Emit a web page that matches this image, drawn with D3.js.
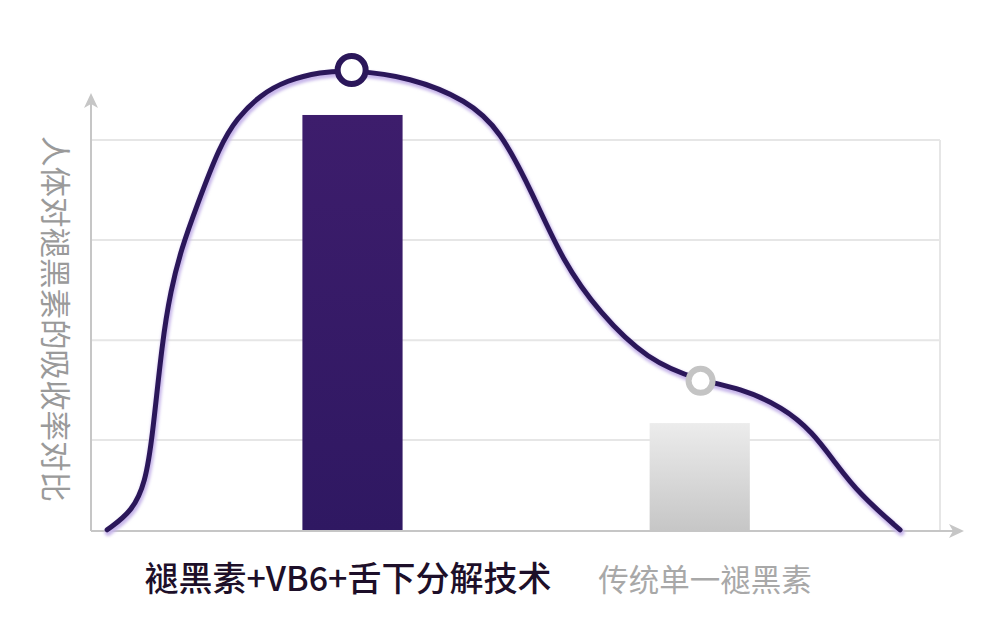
<!DOCTYPE html>
<html>
<head>
<meta charset="utf-8">
<script src="https://cdn.jsdelivr.net/npm/d3@7"></script>
<style>
  body { margin: 0; background: #fff; }
  svg { display: block; font-family: "Noto Sans CJK SC", "Noto Sans", sans-serif; }
</style>
</head>
<body>
<script>
//Categories and bar values (absorption, arbitrary units).
const categories = ["褪黑素+VB6+舌下分解技术", "传统单一褪黑素"];
const barCenters = [30.8, 71.7];
const barValues = [106.4, 27.6];

//Absorption curve.
const curveX = [1.9, 4.9, 6.4, 7.2, 8.4, 9.4, 10.6, 12.5, 15.2, 17.2, 19.9, 23.1, 27.0, 30.7, 37.6, 44.3, 48.2, 52.0, 55.6, 59.9, 65.5, 71.8, 76.4, 81.5, 85.0, 87.6, 90.6, 95.3];
const curveY = [0.3, 5.1, 12.5, 23.3, 48.8, 61.6, 71.9, 83.4, 98.7, 105.6, 111.5, 115.3, 117.4, 117.9, 116.1, 110.2, 102.6, 86.4, 68.8, 55.8, 43.7, 38.4, 36.6, 31.7, 25.3, 17.6, 9.2, 0.3];

//Marker points on the curve.
const markerX = [30.7, 71.8];
const markerY = [117.9, 38.4];

//Gridline values.
const gridTicks = [23.3, 48.8, 74.4, 100];

const yTitle = "人体对褪黑素的吸收率对比";

const width = 1000;
const height = 630;

//Scales.
const x = d3.scaleLinear().domain([0, 100]).range([91, 940]);
const y = d3.scaleLinear().domain([0, 100]).range([531, 140]);
const barWidth = 11.8;

const svg = d3.select("body")
  .append("svg")
  .attr("width", width)
  .attr("height", height);

const defs = svg.append("defs");

const g1 = defs.append("linearGradient").attr("id", "barPurple")
  .attr("x1", 0).attr("y1", 0).attr("x2", 0).attr("y2", 1);
g1.append("stop").attr("offset", "0%").attr("stop-color", "#3d1d6c");
g1.append("stop").attr("offset", "100%").attr("stop-color", "#2f1862");

const g2 = defs.append("linearGradient").attr("id", "barGray")
  .attr("x1", 0).attr("y1", 0).attr("x2", 0).attr("y2", 1);
g2.append("stop").attr("offset", "0%").attr("stop-color", "#ececec");
g2.append("stop").attr("offset", "100%").attr("stop-color", "#c6c6c6");

defs.append("filter").attr("id", "blur")
  .append("feGaussianBlur").attr("stdDeviation", 1.5);

//Gridlines.
svg.append("g")
  .selectAll("line")
  .data(gridTicks)
  .join("line")
  .attr("x1", x(0))
  .attr("x2", x(100))
  .attr("y1", d => y(d))
  .attr("y2", d => y(d))
  .attr("stroke", "#e6e6e6")
  .attr("stroke-width", 2);

//Right border line.
svg.append("line")
  .attr("x1", x(100)).attr("x2", x(100))
  .attr("y1", y(100)).attr("y2", y(0))
  .attr("stroke", "#e6e6e6")
  .attr("stroke-width", 2);

//Bars.
const barFill = ["url(#barPurple)", "url(#barGray)"];
svg.append("g")
  .selectAll("rect")
  .data(barValues)
  .join("rect")
  .attr("x", (d, i) => x(barCenters[i] - barWidth / 2))
  .attr("width", x(barWidth) - x(0))
  .attr("y", d => y(d))
  .attr("height", d => y(0) - y(d))
  .attr("fill", (d, i) => barFill[i]);

//Axes with arrows.
const axisColor = "#c6c6c6";
svg.append("line")
  .attr("x1", x(0)).attr("x2", x(0))
  .attr("y1", y(0)).attr("y2", 100)
  .attr("stroke", axisColor).attr("stroke-width", 2);
svg.append("path")
  .attr("d", `M${x(0)},93 L${x(0) - 7},108 L${x(0)},104 L${x(0) + 7},108 Z`)
  .attr("fill", axisColor);
svg.append("line")
  .attr("x1", x(0)).attr("x2", 958)
  .attr("y1", y(0)).attr("y2", y(0))
  .attr("stroke", axisColor).attr("stroke-width", 2);
svg.append("path")
  .attr("d", `M964,${y(0)} L949,${y(0) - 7} L953,${y(0)} L949,${y(0) + 7} Z`)
  .attr("fill", axisColor);

//Curve.
const pts = curveX.map((d, i) => [d, curveY[i]]);
const line = d3.line()
  .x(d => x(d[0]))
  .y(d => y(d[1]))
  .curve(d3.curveBasis);

svg.append("path")
  .attr("d", line(pts))
  .attr("fill", "none")
  .attr("stroke", "#c7b6ea")
  .attr("stroke-width", 7)
  .attr("stroke-linecap", "round")
  .attr("transform", "translate(1,2.5)")
  .attr("filter", "url(#blur)");

svg.append("path")
  .attr("d", line(pts))
  .attr("fill", "none")
  .attr("stroke", "#2b175a")
  .attr("stroke-width", 5)
  .attr("stroke-linecap", "round");

//Markers.
const markerColor = ["#2b175a", "#c4c4c4"];
const markerR = [14, 12];
svg.append("g")
  .selectAll("circle")
  .data(markerX)
  .join("circle")
  .attr("cx", d => x(d))
  .attr("cy", (d, i) => y(markerY[i]))
  .attr("r", (d, i) => markerR[i])
  .attr("fill", "#fff")
  .attr("stroke", (d, i) => markerColor[i])
  .attr("stroke-width", 6);

//Category labels.
const labelColor = ["#1d0f29", "#a8a8a8"];
const labelSize = [34, 30.5];
const labelX = [348, 705];
svg.append("g")
  .selectAll("text")
  .data(categories)
  .join("text")
  .attr("x", (d, i) => labelX[i])
  .attr("y", 591)
  .attr("text-anchor", "middle")
  .attr("fill", (d, i) => labelColor[i])
  .style("font-size", (d, i) => labelSize[i] + "px")
  .style("font-weight", (d, i) => i === 0 ? 500 : 400)
  .text(d => d);

//Y axis title, rotated clockwise.
svg.append("text")
  .attr("transform", "translate(44,319) rotate(90)")
  .attr("text-anchor", "middle")
  .attr("fill", "#9a9a9a")
  .style("font-size", "30.5px")
  .text(yTitle);
</script>
</body>
</html>
